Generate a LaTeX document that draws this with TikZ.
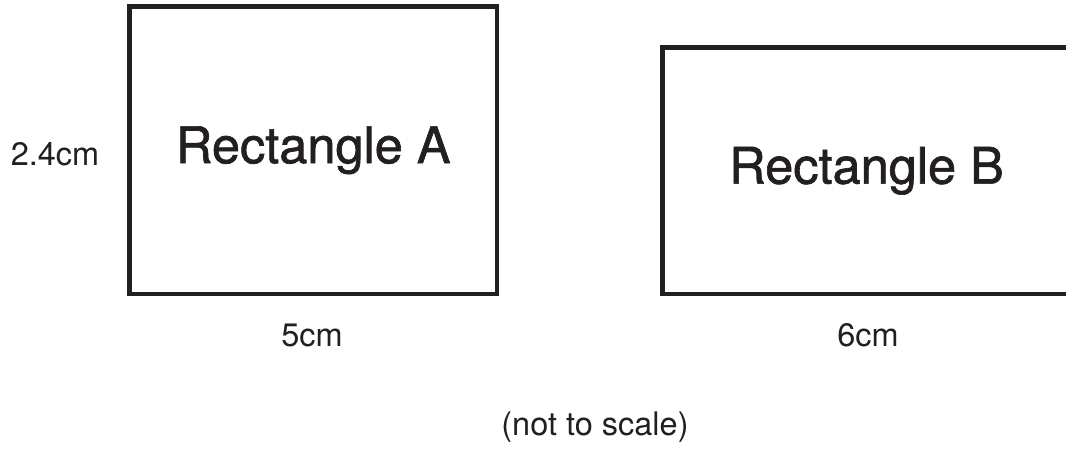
\documentclass[tikz,border=0pt]{standalone}
\usepackage{fontspec}
\setmainfont{TeX Gyre Heros}
\newfontfamily\titlefont[FakeBold=1.3]{TeX Gyre Heros}
\usepackage{tikz}
\definecolor{ink}{HTML}{231F20}

\begin{document}
\begin{tikzpicture}[x=1pt,y=-1pt]
	\useasboundingbox (0,0) rectangle (1066,450);

	\begin{scope}[every node/.style={rectangle,draw=ink,line width=4.5pt,text=ink,
	              font=\titlefont\fontsize{50.5}{60}\selectfont,inner sep=0pt}]
	    \node[minimum width=367.5pt,minimum height=287.5pt] (recta) at (313.25,150.25) {Rectangle A};
	    \node[minimum width=408pt,minimum height=246.5pt] (rectb) at (866.5,170.75) {Rectangle B};
	\end{scope}

	\begin{scope}[every node/.style={text=ink,anchor=base,inner sep=0pt,
	              font=\fontsize{32.5}{38}\selectfont}]
	    \node (height) at (55,165) {2.4cm};
	    \node (widtha) at (312,346) {5cm};
	    \node (widthb) at (868,346) {6cm};
	    \node (note) at (595,435) {(not to scale)};
	\end{scope}
\end{tikzpicture}
\end{document}
